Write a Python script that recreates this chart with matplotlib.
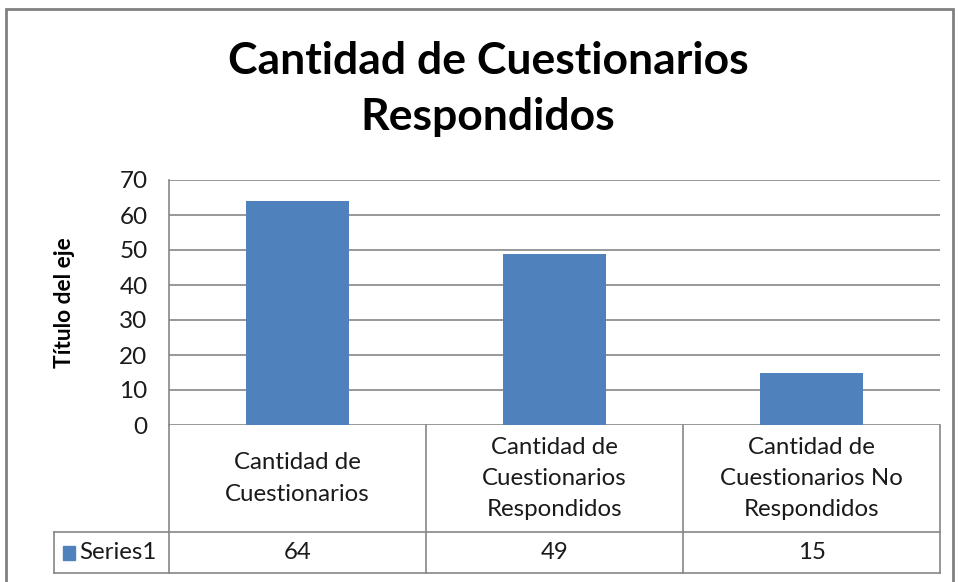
import matplotlib
matplotlib.use("Agg")
import matplotlib.pyplot as plt
import matplotlib.transforms as mtransforms
from matplotlib.patches import Rectangle

categories = ["Cantidad de\nCuestionarios",
              "Cantidad de\nCuestionarios\nRespondidos",
              "Cantidad de\nCuestionarios No\nRespondidos"]
values = [64, 49, 15]
series_name = "Series1"
title = "Cantidad de Cuestionarios\nRespondidos"
ylabel = "Título del eje"
yticks = [0, 10, 20, 30, 40, 50, 60, 70]

BAR = "#4F81BD"
GRID = "#868686"
FONT = "Lato"
TXT = "#1a1a1a"
FS = 17.3

W, H = 958, 582
fig = plt.figure(figsize=(W / 100, H / 100), dpi=100)
fig.patch.set_facecolor("white")

# outer chart border
fig.add_artist(Rectangle((6 / W, -0.05), (953 - 6) / W, (H - 9) / H + 0.05,
                         transform=fig.transFigure, fill=False,
                         edgecolor="#808080", linewidth=2))

L, R, T, B = 169, 940, 180, 425
ax = fig.add_axes([L / W, (H - B) / H, (R - L) / W, (B - T) / H])
x = list(range(len(values)))
ax.bar(x, values, width=0.4, color=BAR, zorder=3)
ax.set_xlim(-0.5, len(values) - 0.5)
ax.set_ylim(0, 70)
ax.set_yticks(yticks)
ax.set_yticklabels([str(t) for t in yticks], fontsize=17.5, family=FONT, color=TXT)
ax.tick_params(axis="y", length=0, pad=15.5)
ax.set_xticks([])
ax.grid(axis="y", color=GRID, linewidth=1.2, zorder=0)
for s in ["top", "right", "bottom"]:
    ax.spines[s].set_visible(False)
ax.spines["left"].set_color(GRID)
ax.spines["left"].set_linewidth(1.2)
ax.set_ylabel(ylabel, fontsize=16.4, fontweight="bold", family=FONT, labelpad=32)

# data table below the axes
trans = mtransforms.blended_transform_factory(ax.transData, ax.transAxes)
ph = B - T
y_mid = -(532 - B) / ph
y_bot = -(573 - B) / ph
leg_left = -(L - 54) / (R - L)
lk = dict(color=GRID, linewidth=1.2, clip_on=False)
n = len(values)
for i in range(n + 1):
    ax.plot([i - 0.5, i - 0.5], [0, y_bot], transform=trans, **lk)
ax.plot([leg_left, 1], [y_mid, y_mid], transform=ax.transAxes, **lk)
ax.plot([leg_left, 1], [y_bot, y_bot], transform=ax.transAxes, **lk)
ax.plot([leg_left, leg_left], [y_mid, y_bot], transform=ax.transAxes, **lk)

for i, (c, v) in enumerate(zip(categories, values)):
    ax.text(i, y_mid / 2, c, transform=trans, ha="center", va="center",
            fontsize=FS, family=FONT, color=TXT, linespacing=1.6)
    ax.text(i, (y_mid + y_bot) / 2, str(v), transform=trans, ha="center",
            va="center", fontsize=FS, family=FONT, color=TXT)

# legend key + series name
ky = (y_mid + y_bot) / 2
ax.add_patch(Rectangle((-(L - 63) / (R - L), ky - 7 / ph), 12 / (R - L), 14 / ph,
                       transform=ax.transAxes, color=BAR, clip_on=False))
ax.text(-(L - 79) / (R - L), ky, series_name, transform=ax.transAxes,
        ha="left", va="center", fontsize=FS, family=FONT, color=TXT)

fig.text(488 / W, 1 - 89 / H, title, ha="center", va="center",
         fontsize=32, fontweight="bold", family=FONT, linespacing=1.5)

fig.savefig("out.png", dpi=100)
